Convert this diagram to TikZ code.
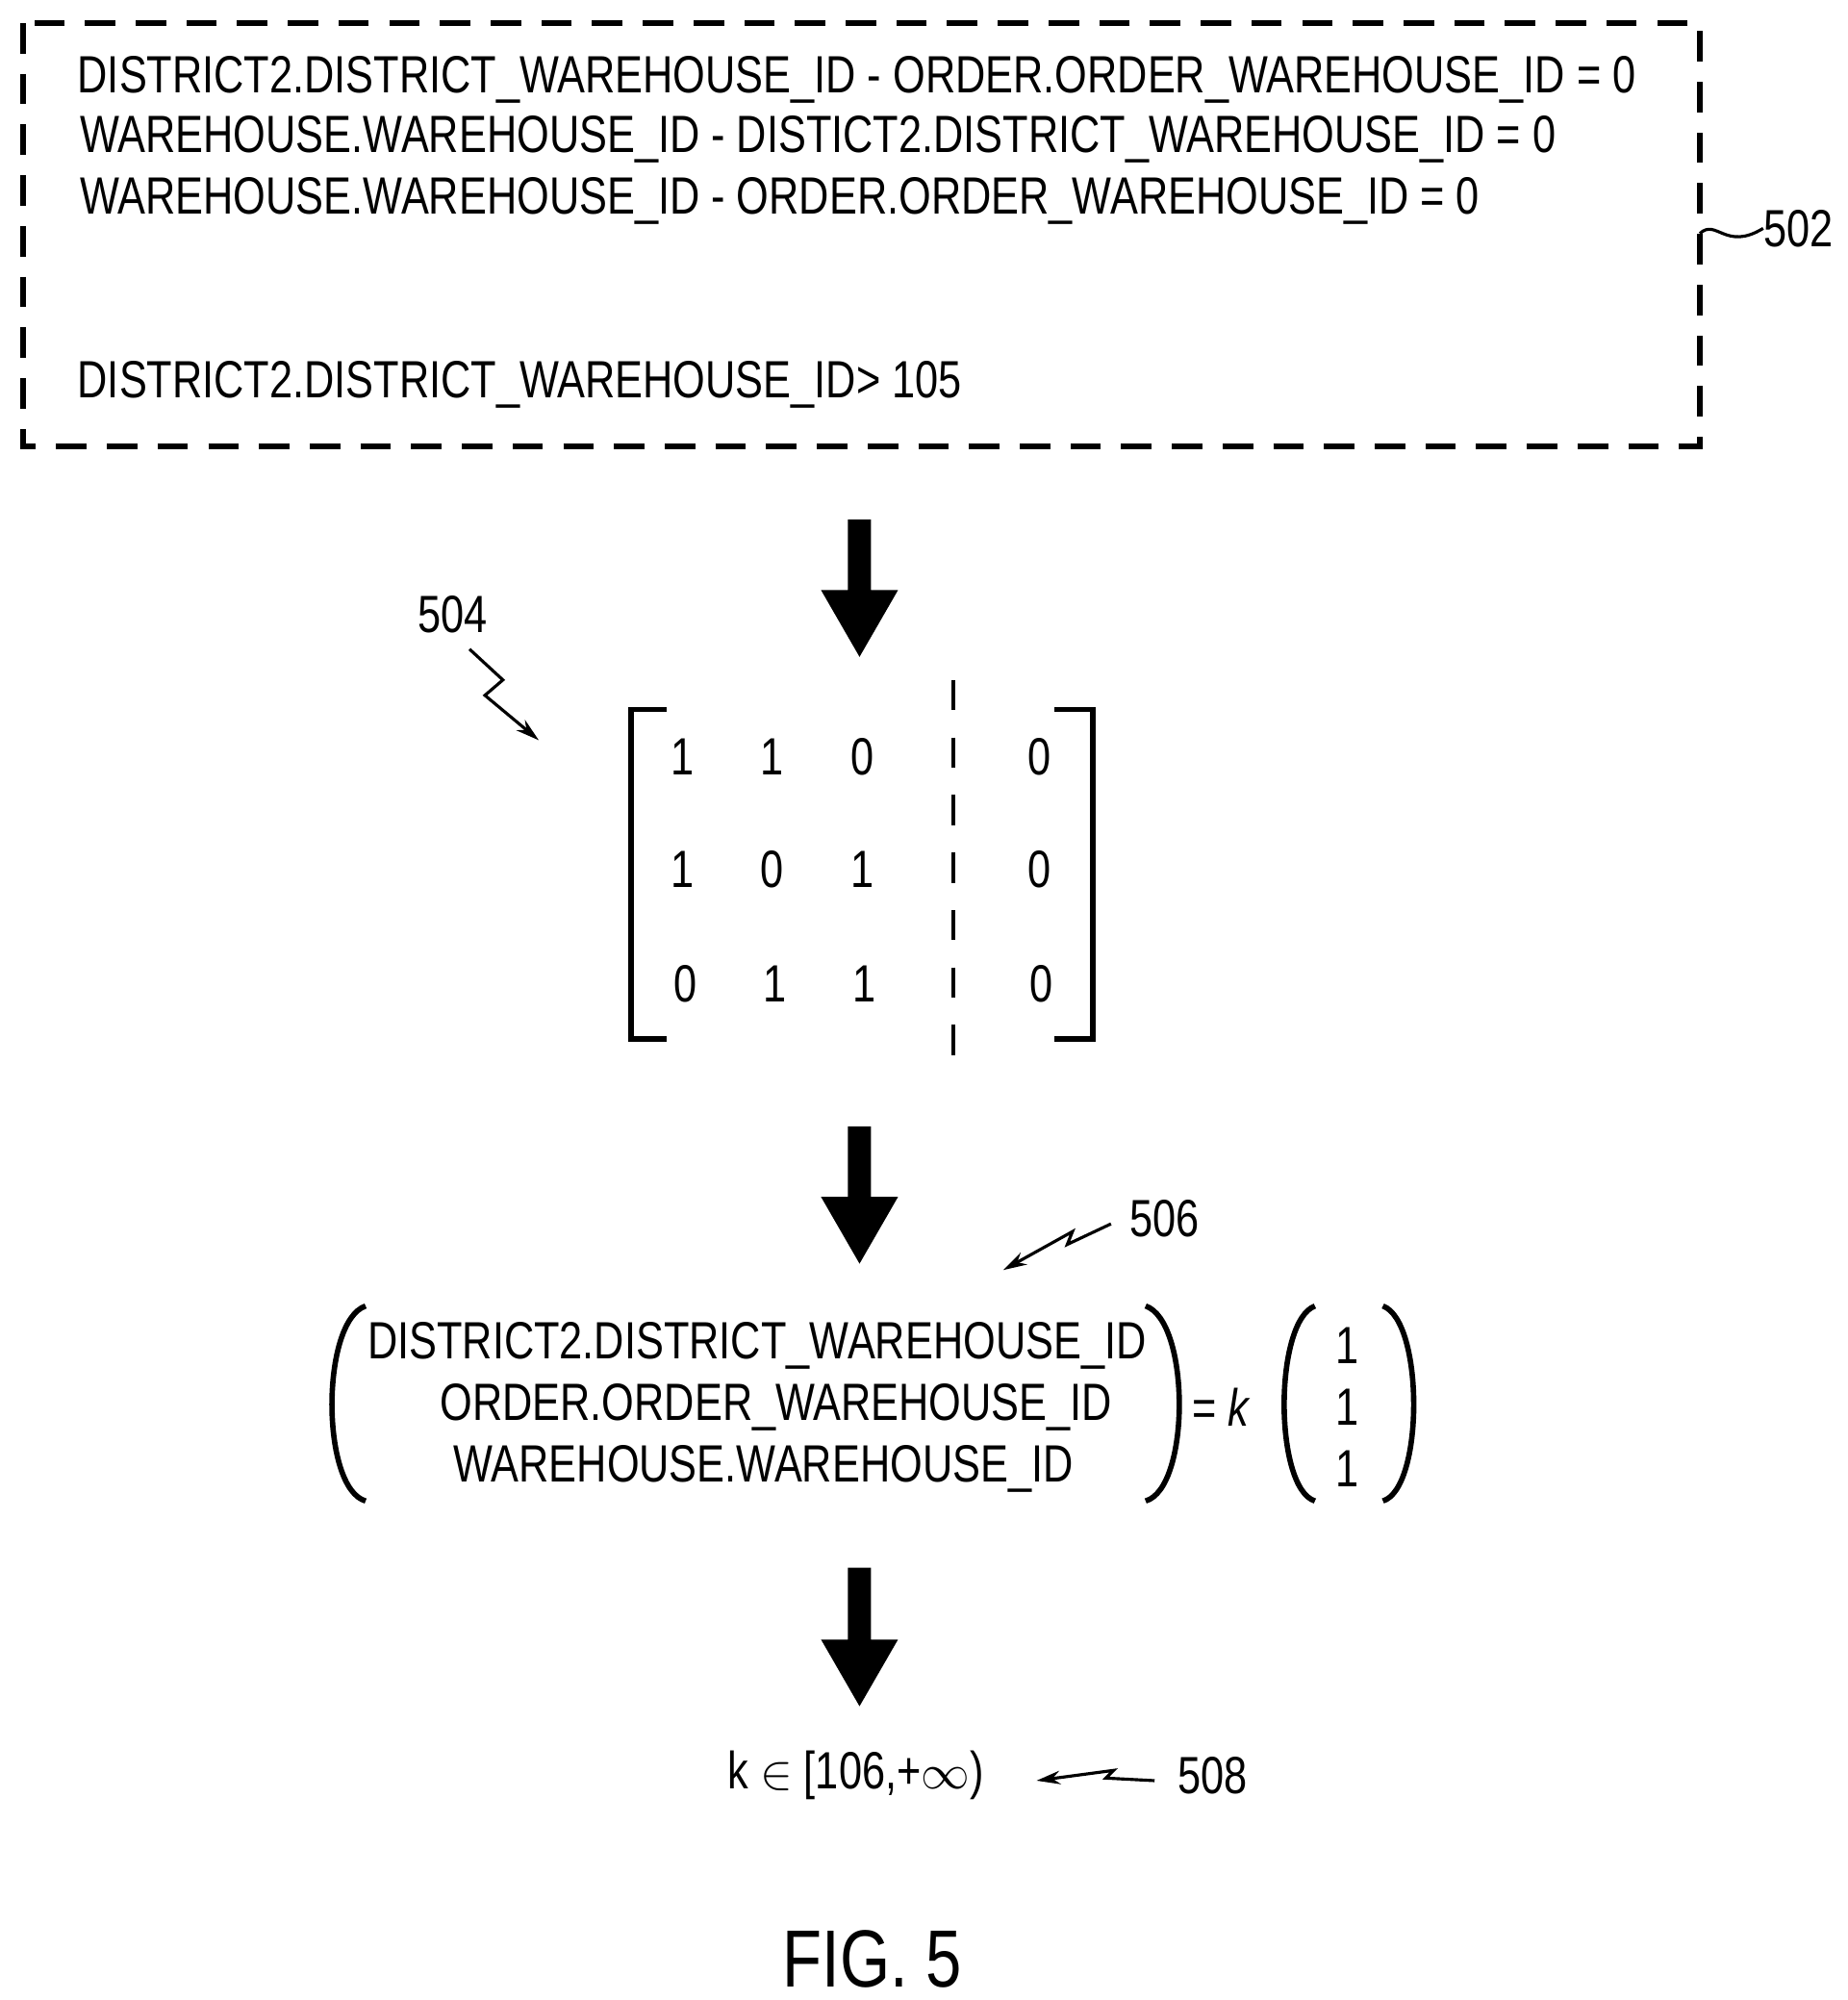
\documentclass[tikz,border=0pt]{standalone}
\usepackage{fontspec}
\setmainfont{Liberation Sans}[FakeStretch=0.795]
\usetikzlibrary{arrows.meta}
\newcommand\blockarrow[2]{\fill (661,#1) -- (679,#1) -- (679,#2-52) -- (700,#2-52) -- (670,#2) -- (640,#2-52) -- (661,#2-52) -- cycle;}
\tikzset{
  txt/.style={inner sep=0pt, font=\fontsize{15.5}{18}\selectfont},
  lbl/.style={inner sep=0pt, font=\fontsize{15.5}{18}\selectfont},
  brk/.style={line width=1.6pt},
  lead/.style={line width=0.9pt, -{Stealth[length=7pt,width=4pt]}}
}
\begin{document}
\begin{tikzpicture}[x=0.013333cm,y=-0.013333cm]
\useasboundingbox (0,0) rectangle (1440,1559);
% box 502
\draw[line width=1.6pt, dash pattern=on 9pt off 6pt] (18,18) rectangle (1325,348);
\draw (60,62) node[txt, anchor=west] (c1) {DISTRICT2.DISTRICT\_WAREHOUSE\_ID - ORDER.ORDER\_WAREHOUSE\_ID = 0};
\draw (62,109) node[txt, anchor=west] (c2) {WAREHOUSE.WAREHOUSE\_ID - DISTICT2.DISTRICT\_WAREHOUSE\_ID = 0};
\draw (62,157) node[txt, anchor=west] (c3) {WAREHOUSE.WAREHOUSE\_ID - ORDER.ORDER\_WAREHOUSE\_ID = 0};
\draw (60,300) node[txt, anchor=west] (c4) {DISTRICT2.DISTRICT\_WAREHOUSE\_ID> 105};
\draw (1402,178) node[lbl] (l502) {502};
\coordinate (b502) at (1325,182);
\draw[line width=0.9pt] (b502) .. controls (1338,170) and (1345,196) .. (l502.west);

% arrows
\blockarrow{405}{512}
\blockarrow{878}{985}
\blockarrow{1222}{1330}

% matrix 504
\draw[brk] (520,553) -- (492,553) -- (492,810) -- (520,810);
\draw[brk] (822,553) -- (852,553) -- (852,810) -- (822,810);
\draw[line width=1.2pt, dash pattern=on 9pt off 8pt] (743,530) -- (743,835);
\draw (532,590) node[txt] {1}; \draw (602,590) node[txt] {1}; \draw (672,590) node[txt] {0}; \draw (810,590) node[txt] {0};
\draw (532,678) node[txt] {1}; \draw (602,678) node[txt] {0}; \draw (672,678) node[txt] {1}; \draw (810,678) node[txt] {0};
\draw (534,767) node[txt] {0}; \draw (604,767) node[txt] {1}; \draw (674,767) node[txt] {1}; \draw (812,767) node[txt] {0};
\draw (353,479) node[lbl] (l504) {504};
\coordinate (a504) at (420,577);
\draw[lead] (366,506) -- (392,530) -- (378,542) -- (a504);

% vector equation 506
\draw[brk] (285,1018) .. controls (250,1030) and (250,1160) .. (285,1170);
\draw[brk] (893,1018) .. controls (928,1030) and (928,1160) .. (893,1170);
\draw (590,1049) node[txt] (v1) {DISTRICT2.DISTRICT\_WAREHOUSE\_ID};
\draw (605,1097) node[txt] (v2) {ORDER.ORDER\_WAREHOUSE\_ID};
\draw (595,1145) node[txt] (v3) {WAREHOUSE.WAREHOUSE\_ID};
\draw (952,1097) node[txt] (eq) {= \textit{k}};
\draw[brk] (1025,1018) .. controls (993,1030) and (993,1160) .. (1025,1170);
\draw[brk] (1078,1018) .. controls (1110,1030) and (1110,1160) .. (1078,1170);
\draw (1050,1049) node[txt] (u1) {1};
\draw (1050,1097) node[txt] (u2) {1};
\draw (1050,1145) node[txt] (u3) {1};
\draw (908,950) node[lbl] (l506) {506};
\coordinate (a506) at (782,990);
\draw[lead] (866,954) -- (832,970) -- (836,960) -- (a506);

% result 508
\draw (667,1384) node[txt] (res) {k $\in$ [106,+$\infty$)};
\draw (945,1384) node[lbl] (l508) {508};
\coordinate (a508) at (808,1388);
\draw[lead] (900,1388) -- (862,1386) -- (868,1380) -- (a508);

\draw (680,1527) node[inner sep=0pt, font=\fontsize{24}{28}\selectfont] (fig) {FIG. 5};
\end{tikzpicture}
\end{document}
